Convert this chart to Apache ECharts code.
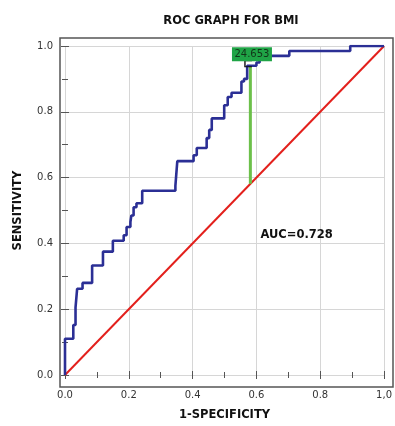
<!DOCTYPE html>
<html>
<head>
<meta charset="utf-8">
<script src="https://cdn.jsdelivr.net/npm/echarts@6/dist/echarts.min.js"></script>
<style>
  html, body { margin: 0; padding: 0; background: #fff; }
  #chart { width: 395px; height: 426px; }
</style>
</head>
<body>
<div id="chart"></div>
<script>
// ROC curve as steps: x where the curve rises, and the sensitivity it reaches there
const rocRiseX = [0, 0.026, 0.033, 0.038, 0.055, 0.085, 0.119, 0.15, 0.184, 0.193, 0.205, 0.208, 0.215, 0.224, 0.242,
  0.346, 0.352, 0.403, 0.413, 0.444, 0.452, 0.46, 0.499, 0.51, 0.522, 0.553, 0.561, 0.571, 0.6, 0.61, 0.703, 0.894];
const rocRiseY = [0.11, 0.152, 0.205, 0.262, 0.28, 0.333, 0.375, 0.408, 0.425, 0.45, 0.465, 0.485, 0.51, 0.522, 0.56,
  0.575, 0.65, 0.668, 0.69, 0.72, 0.745, 0.78, 0.82, 0.845, 0.858, 0.892, 0.9, 0.94, 0.95, 0.97, 0.985, 1.0];

const diagonal = [[0, 0], [1, 1]];
const cutoffX = 0.581;
const cutoffTopY = 0.94;
const cutoffLabel = "24.653";
const cutoffLabelPos = [0.586, 0.975];
const aucText = "AUC=0.728";
const aucPos = [0.611, 0.426];

const xTickLabels = ["0.0", "0.2", "0.4", "0.6", "0.8", "1,0"];
const yTickLabels = ["0.0", "0.2", "0.4", "0.6", "0.8", "1.0"];

const FONT = "DejaVu Sans";

// step vertices
const rocPts = [[0, 0]];
let prev = 0;
rocRiseX.forEach((x, i) => {
  rocPts.push([x, prev]);
  rocPts.push([x, rocRiseY[i]]);
  prev = rocRiseY[i];
});
rocPts.push([1, prev]);

const chart = echarts.init(document.getElementById("chart"), null, { renderer: "canvas" });

const tickIdx = (v) => Math.round(v / 0.2);

const baseAxis = {
  type: "value",
  min: 0,
  max: 1,
  interval: 0.2,
  axisLine: { show: false },
  axisTick: { show: true, inside: true, length: 4, lineStyle: { color: "#555" } },
  minorTick: { show: true, splitNumber: 2, length: 3, lineStyle: { color: "#555" } },
  splitLine: { show: false },
  axisLabel: { show: false },
};

chart.setOption({
  animation: false,
  backgroundColor: "#fff",
  title: {
    text: "ROC GRAPH FOR BMI",
    left: 226,
    top: 10,
    textAlign: "center",
    textStyle: { fontFamily: FONT, fontSize: 11.5, fontWeight: "bold", color: "#111" },
  },
  grid: { left: 65, right: 7.5, top: 46, bottom: 46, containLabel: false },
  graphic: [{
    type: "rect",
    shape: { x: 60, y: 38, width: 333, height: 349 },
    style: { fill: "none", stroke: "#555", lineWidth: 1.5 },
    z: 1,
  }],
  xAxis: [
    {
      ...baseAxis,
      position: "bottom",
      offset: 7,
      splitLine: { show: true, lineStyle: { color: "#d6d6d6", width: 1 } },
      axisLabel: {
        show: true, margin: 8, fontFamily: FONT, fontSize: 10, color: "#333",
        formatter: (v) => xTickLabels[tickIdx(v)],
      },
      name: "1-SPECIFICITY",
      nameLocation: "middle",
      nameGap: 27,
      nameTextStyle: { fontFamily: FONT, fontSize: 11.5, fontWeight: "bold", color: "#111" },
    },
    { ...baseAxis, position: "top", offset: 8 },
  ],
  yAxis: [
    {
      ...baseAxis,
      position: "left",
      offset: 5,
      splitLine: { show: true, lineStyle: { color: "#d6d6d6", width: 1 } },
      axisLabel: {
        show: true, margin: 7, fontFamily: FONT, fontSize: 10, color: "#333",
        formatter: (v) => yTickLabels[tickIdx(v)],
      },
      name: "SENSITIVITY",
      nameLocation: "middle",
      nameGap: 36,
      nameTextStyle: { fontFamily: FONT, fontSize: 11.5, fontWeight: "bold", color: "#111" },
    },
    { ...baseAxis, position: "right", offset: 5.5 },
  ],
  series: [
    {
      name: "reference",
      type: "line",
      data: diagonal,
      symbol: "none",
      lineStyle: { color: "#e3201c", width: 2 },
      z: 2,
    },
    {
      name: "cutoff",
      type: "line",
      data: [[cutoffX, cutoffX], [cutoffX, cutoffTopY]],
      symbol: "none",
      lineStyle: { color: "#6cc04a", width: 3 },
      z: 3,
    },
    {
      name: "ROC",
      type: "line",
      data: rocPts,
      symbol: "none",
      lineStyle: { color: "#2b2f95", width: 2.6 },
      z: 4,
    },
    {
      name: "cutoff marker",
      type: "scatter",
      data: [[0.575, 0.946]],
      symbol: "path://M10,0 L0,0 L0,10 L10,10",
      symbolSize: [7, 6],
      itemStyle: { color: "none", borderColor: "#111", borderWidth: 1.3, opacity: 1 },
      z: 5,
    },
    {
      name: "cutoff label",
      type: "scatter",
      data: [cutoffLabelPos],
      symbolSize: 1,
      itemStyle: { color: "transparent", opacity: 1 },
      label: {
        show: true,
        position: "inside",
        formatter: cutoffLabel,
        backgroundColor: "#1fa446",
        padding: [1, 2.5],
        lineHeight: 12,
        fontFamily: FONT,
        fontSize: 10,
        color: "#123519",
      },
      z: 6,
    },
    {
      name: "auc",
      type: "scatter",
      data: [aucPos],
      symbolSize: 1,
      itemStyle: { color: "transparent", opacity: 1 },
      label: {
        show: true,
        position: "right",
        distance: 0,
        formatter: aucText,
        fontFamily: FONT,
        fontSize: 11.5,
        fontWeight: "bold",
        color: "#111",
      },
      z: 6,
    },
  ],
});
</script>
</body>
</html>
